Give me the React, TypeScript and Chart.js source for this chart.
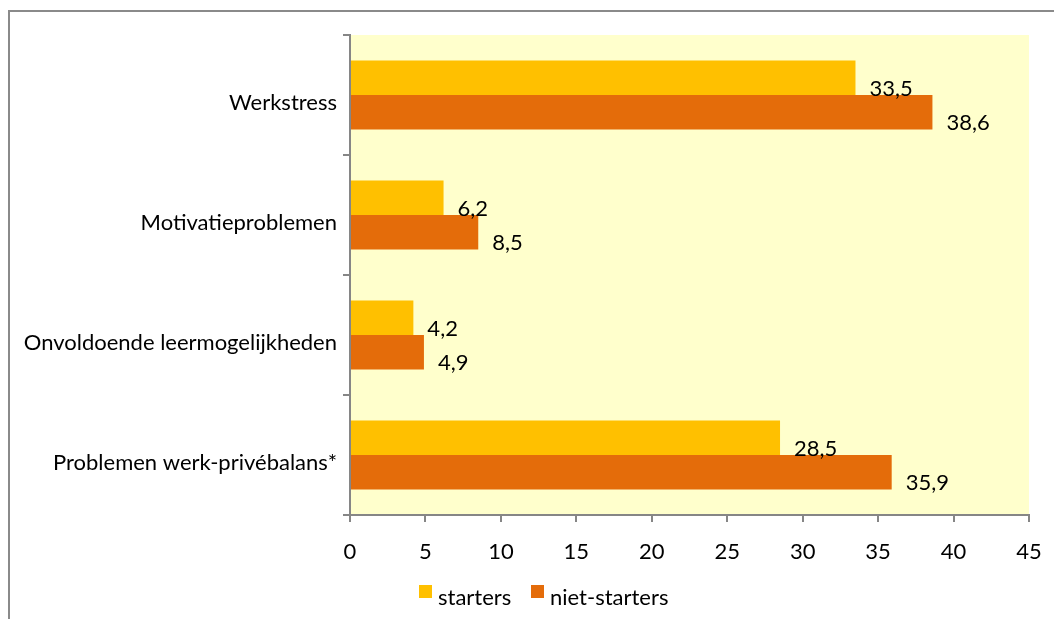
import React, { useEffect, useRef } from "react";
import { Chart, registerables } from "chart.js";

Chart.register(...registerables);

const categories = [
  "Werkstress",
  "Motivatieproblemen",
  "Onvoldoende leermogelijkheden",
  "Problemen werk-privébalans*",
];
const starters = [33.5, 6.2, 4.2, 28.5];
const nietStarters = [38.6, 8.5, 4.9, 35.9];
const seriesNames = ["starters", "niet-starters"];
const xTicks = [0, 5, 10, 15, 20, 25, 30, 35, 40, 45];

const FONT = "Lato, 'Open Sans', sans-serif";
const FS = 22;
const AXIS = "#868686";

const plotBg = {
  id: "plotBg",
  beforeDraw(chart: any) {
    const { ctx, chartArea } = chart;
    ctx.save();
    ctx.fillStyle = "#FFFFCC";
    ctx.fillRect(chartArea.left, chartArea.top, chartArea.right - chartArea.left, chartArea.bottom - chartArea.top);
    ctx.restore();
  },
};

const valueLabels = {
  id: "valueLabels",
  afterDatasetsDraw(chart: any) {
    const { ctx } = chart;
    ctx.save();
    ctx.fillStyle = "#000";
    ctx.font = `${FS}px ${FONT}`;
    ctx.textAlign = "left";
    ctx.textBaseline = "middle";
    chart.data.datasets.forEach((ds: any, i: number) => {
      const meta = chart.getDatasetMeta(i);
      meta.data.forEach((el: any, j: number) => {
        const v = ds.data[j];
        ctx.fillText(v.toFixed(1).replace(".", ","), el.x + 14, el.y + 11);
      });
    });
    ctx.restore();
  },
};

const legendBoxX = [419, 531];

const customLegend = {
  id: "customLegend",
  afterDraw(chart: any) {
    const { ctx } = chart;
    ctx.save();
    ctx.font = `${FS}px ${FONT}`;
    ctx.textBaseline = "middle";
    ctx.textAlign = "left";
    const y = 598;
    chart.data.datasets.forEach((ds: any, i: number) => {
      const x = legendBoxX[i];
      ctx.fillStyle = ds.backgroundColor;
      ctx.fillRect(x, y - 13, 13, 13);
      ctx.fillStyle = "#000";
      ctx.fillText(ds.label, x + 19, y);
    });
    ctx.restore();
  },
};

export default function App() {
  const ref = useRef<HTMLCanvasElement>(null);
  useEffect(() => {
    if (!ref.current) return;
    const chart = new Chart(ref.current, {
      type: "bar",
      data: {
        labels: categories,
        datasets: [
          { label: seriesNames[0], data: starters, backgroundColor: "#FFC000", categoryPercentage: 0.575, barPercentage: 1 },
          { label: seriesNames[1], data: nietStarters, backgroundColor: "#E46C0A", categoryPercentage: 0.575, barPercentage: 1 },
        ],
      },
      options: {
        indexAxis: "y",
        responsive: false,
        animation: false,
        layout: { padding: { left: 0, top: 35, right: 25, bottom: 0 } },
        plugins: { legend: { display: false }, tooltip: { enabled: false } },
        scales: {
          x: {
            min: 0,
            max: 45,
            afterBuildTicks: (scale: any) => {
              scale.ticks = xTicks.map((v) => ({ value: v }));
            },
            afterFit: (scale: any) => {
              scale.height = 104;
              scale.paddingLeft = 0;
              scale.paddingRight = 0;
            },
            grid: { drawOnChartArea: false, drawTicks: true, tickLength: 7, color: AXIS, lineWidth: 2 },
            border: { color: AXIS, width: 2 },
            ticks: { color: "#000", font: { family: FONT, size: FS }, padding: 17, maxRotation: 0 },
          },
          y: {
            afterFit: (scale: any) => {
              scale.width = 350;
              scale.paddingTop = 0;
              scale.paddingBottom = 0;
            },
            grid: { drawOnChartArea: false, drawTicks: true, tickLength: 7, color: AXIS, lineWidth: 2, offset: true },
            border: { color: AXIS, width: 2 },
            ticks: { color: "#000", font: { family: FONT, size: FS }, padding: 6, labelOffset: 8 },
          },
        },
      },
      plugins: [plotBg, valueLabels, customLegend],
    });
    return () => chart.destroy();
  }, []);
  return (
    <div style={{ position: "fixed", left: 0, top: 0, width: 1054, height: 619, overflow: "hidden", background: "#fff" }}>
      <div style={{ position: "absolute", left: 8, top: 10, width: 1200, height: 800, border: "2px solid #8a8a8a" }} />
      <canvas ref={ref} width={1054} height={619} style={{ position: "absolute", left: 0, top: 0 }} />
    </div>
  );
}
